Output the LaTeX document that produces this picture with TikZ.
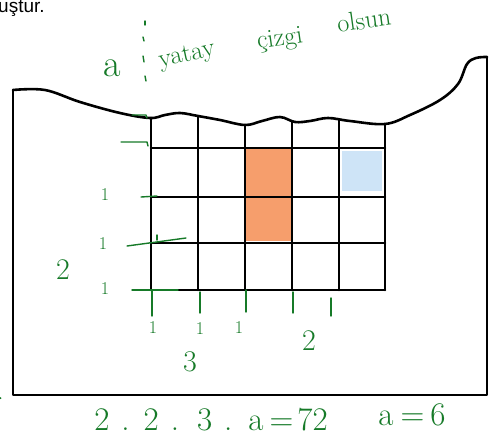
\documentclass[tikz,border=0pt]{standalone}
\usepackage{fontspec}
\newfontfamily\labelsans{Liberation Sans}
\definecolor{pen}{RGB}{22,122,40}
\definecolor{orangecell}{RGB}{246,158,108}
\definecolor{bluecell}{RGB}{206,228,247}
\tikzset{
  outline/.style={line width=2.6pt, black, line join=round, line cap=round},
  gridline/.style={line width=2.6pt, black, line cap=round},
  penline/.style={pen, line width=1.4pt, line cap=round, line join=round},
  pentext/.style={pen, inner sep=0pt},
  onetext/.style={pen, inner sep=0pt, font=\fontsize{18}{19}\selectfont},
}
\begin{document}
\begin{tikzpicture}[x=1pt,y=-1pt]
\useasboundingbox (0,0) rectangle (489,444);
% cut-off text at the top
\node[anchor=base west, inner sep=0pt, font=\labelsans\fontsize{19}{21}\selectfont] (cut) at (-2,13) {uştur.};
% coloured cells
\fill[orangecell] (246,149) rectangle (291,196);
\fill[orangecell] (246,198) rectangle (291,241);
\fill[bluecell] (342,151) rectangle (382,191);
% outer frame with wavy top
\draw[outline] plot[smooth, tension=0.6] coordinates {(13,90) (45,90) (80,102) (120,113) (150,118) (165,115) (180,113) (198,116) (220,120) (245,125) (262,121) (280,117) (295,122) (310,121) (328,118) (350,121) (385,124) (410,115) (440,100) (458,84) (467,64) (476,58) (487,57)};
\draw[outline] (13,90) -- (13,395) -- (487,395) -- (487,57);
% grid
\foreach \x/\t in {151/118,198/116,245/125,292/122,339/120,385/124}
  \draw[gridline] (\x,\t) -- (\x,290);
\foreach \y in {148,197,243,290}
  \draw[gridline] (151,\y) -- (385,\y);
% green annotations: heading
\node[pentext, font=\fontsize{38}{40}\selectfont] (a) at (112,68) {a};
\draw[penline] (145,21) -- (145,25);
\draw[penline] (143,37) -- (144,41);
\draw[penline] (143,56) -- (144,62);
\draw[penline] (145,76) -- (146,81);
\node[pentext, rotate=12, font=\fontsize{26}{28}\selectfont] (yatay) at (187,56) {yatay};
\node[pentext, rotate=8, font=\fontsize{26}{28}\selectfont] (cizgi) at (280,40) {çizgi};
\node[pentext, rotate=8, font=\fontsize{26}{28}\selectfont] (olsun) at (364,20) {olsun};
% left marks
\draw[penline] (132,115) -- (146,115) -- (147,118);
\draw[penline] (121,142) -- (147,142) -- (148,146);
\draw[penline] (141,197) -- (157,196);
\draw[penline] (127,246) -- (186,238);
\draw[penline] (157,235) -- (157,240);
\draw[penline] (132,290) -- (178,290);
\node[onetext] (l1) at (105,195) {1};
\node[onetext] (l2) at (103,244) {1};
\node[onetext] (l3) at (105,289) {1};
\node[pentext, font=\fontsize{30}{32}\selectfont] (two) at (63,270) {2};
% bottom marks
\draw[penline] (152,290) -- (152,316);
\draw[penline] (200,292) -- (200,313);
\draw[penline] (246,290) -- (246,312);
\draw[penline] (293,292) -- (293,313);
\draw[penline] (331,298) -- (331,316);
\node[onetext] (b1) at (153,328) {1};
\node[onetext] (b2) at (200,329) {1};
\node[onetext] (b3) at (239,328) {1};
\node[pentext, font=\fontsize{30}{32}\selectfont] (three) at (190,362) {3};
\node[pentext, font=\fontsize{30}{32}\selectfont] (twob) at (309,341) {2};
% equation
\node[pentext, font=\fontsize{33}{35}\selectfont] (eq) at (211,420) {2\kern12pt.\kern14pt2\kern12pt.\kern18pt3\kern12pt.\kern16pt a\kern6pt=\kern4pt72};
\node[pentext, font=\fontsize{33}{35}\selectfont] (res) at (412,415) {a\kern7pt=\kern6pt6};
\fill[pen] (0.5,398) circle (1pt);
\end{tikzpicture}
\end{document}
